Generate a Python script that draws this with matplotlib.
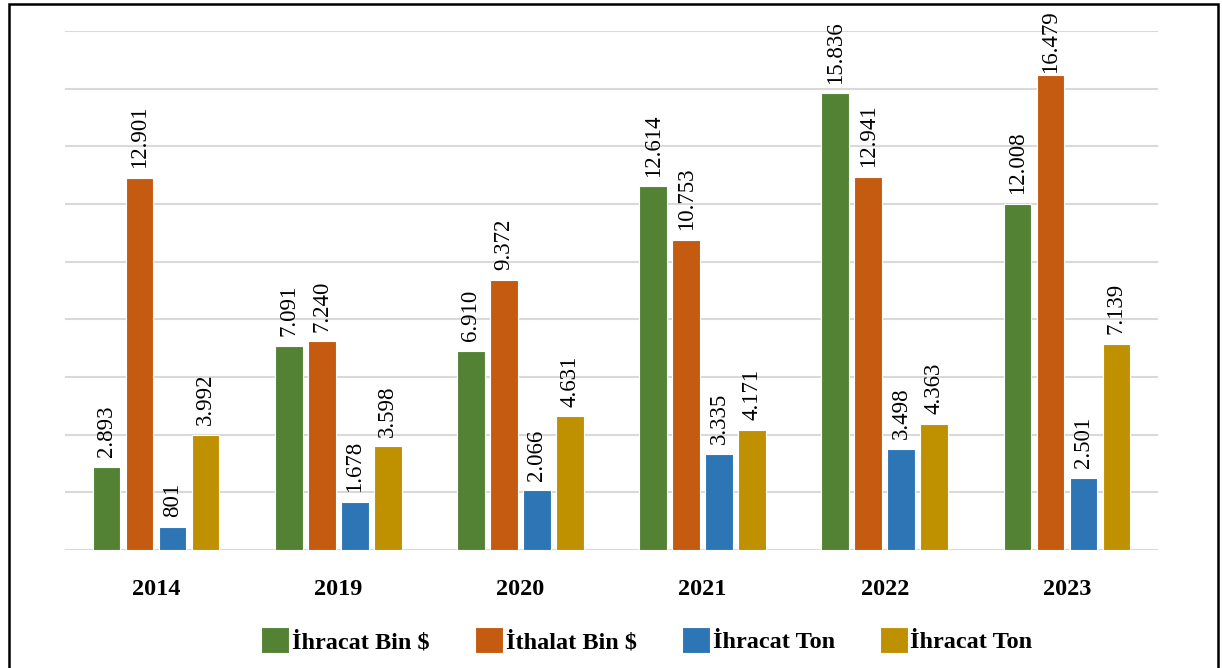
import matplotlib.pyplot as plt
from matplotlib.patches import Rectangle
import numpy as np

years = ['2014', '2019', '2020', '2021', '2022', '2023']
ihracat_usd = [2893, 7091, 6910, 12614, 15836, 12008]
ithalat_usd = [12901, 7240, 9372, 10753, 12941, 16479]
ihracat_ton = [801, 1678, 2066, 3335, 3498, 2501]
ihracat_ton2 = [3992, 3598, 4631, 4171, 4363, 7139]

series_names = ['İhracat Bin $', 'İthalat Bin $', 'İhracat Ton', 'İhracat Ton']
series_values = [ihracat_usd, ithalat_usd, ihracat_ton, ihracat_ton2]
colors = ['#548235', '#C55A11', '#2E75B6', '#BF9000']

plt.rcParams['font.family'] = ['Liberation Serif', 'DejaVu Serif']

W, H = 1222, 668
fig = plt.figure(figsize=(W / 100, H / 100), dpi=100)
ax = fig.add_axes([65 / W, 1 - 550 / H, (1158 - 65) / W, (550 - 31) / H])

x = np.arange(len(years))
pitch = 0.181
width = 0.152

def fmt(v):
    return f'{v:,}'.replace(',', '.')

labels = []
for i, (name, vals, col) in enumerate(zip(series_names, series_values, colors)):
    pos = x + (i - 1.5) * pitch
    bars = ax.bar(pos, vals, width, color=col, edgecolor='white', linewidth=0.8,
                  label=name, zorder=3)
    for b, v in zip(bars, vals):
        t = ax.annotate(fmt(v), (b.get_x() + b.get_width() / 2, v),
                        xytext=(0, 7), textcoords='offset points',
                        rotation=90, ha='center', va='bottom', fontsize=16.5)
        labels.append(t)

ax.set_xlim(-0.5, len(years) - 0.5)
ax.set_ylim(0, 18000)
ax.set_yticks(np.arange(0, 18001, 2000))
ax.yaxis.grid(True, color='#D9D9D9', linewidth=1.5, zorder=0)
ax.set_axisbelow(True)
ax.tick_params(axis='y', length=0, labelleft=False)
ax.tick_params(axis='x', length=0, pad=21)
ax.set_xticks(x)
ax.set_xticklabels(years, fontsize=17.5, fontweight='bold')
for s in ax.spines.values():
    s.set_visible(False)

fig.legend(loc='center', bbox_to_anchor=(647 / W, 1 - 640 / H), ncol=4,
           frameon=False, handlelength=1.15, handleheight=1.3, handletextpad=0.12,
           columnspacing=1.85, prop={'size': 17.5, 'weight': 'bold'})

fig.patches.append(Rectangle((9 / W, -0.05), (1218 - 9) / W, 1.05 - 4 / H,
                             transform=fig.transFigure, fill=False,
                             edgecolor='black', linewidth=1.8))

# keep labels inside the chart area like the original (pushed down near the top)
fig.canvas.draw()
r = fig.canvas.get_renderer()
top_limit = H - 10
for t in labels:
    bb = t.get_window_extent(r)
    if bb.y1 > top_limit:
        dx, dy = t.xyann
        t.xyann = (dx, dy - (bb.y1 - top_limit) * 72 / fig.dpi)

fig.savefig('out.png', dpi=100)
